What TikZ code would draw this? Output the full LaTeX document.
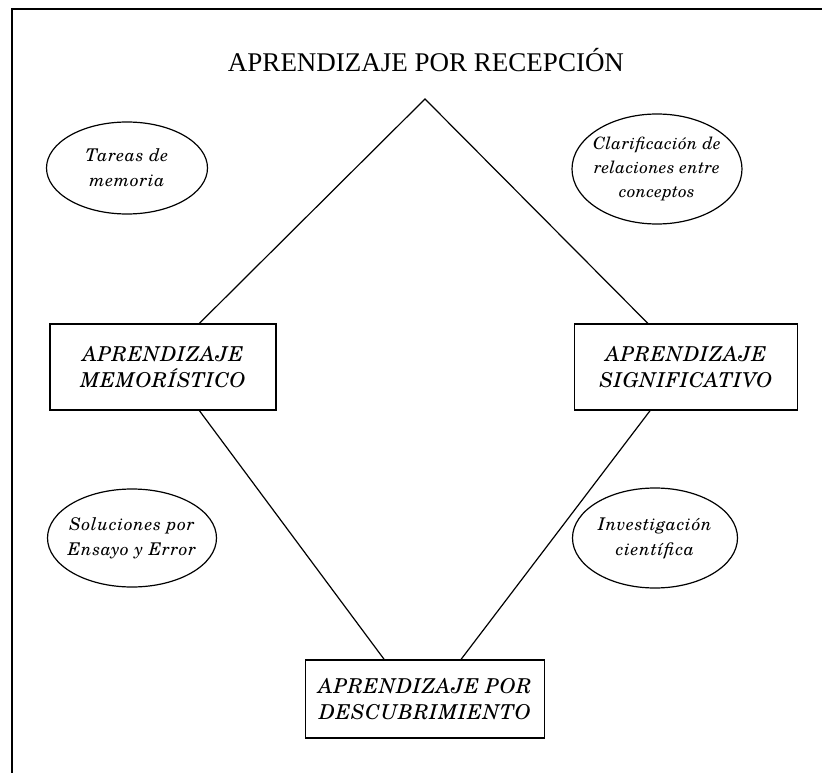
\documentclass[tikz,border=0pt]{standalone}
\usepackage{fontspec}
\setmainfont{Liberation Serif}
\newfontfamily\scholaI{texgyreschola-italic.otf}[LetterSpace=4]
\newfontfamily\scholaC{texgyreschola-italic.otf}[LetterSpace=2]
\newfontfamily\scholaB{texgyreschola-italic.otf}[LetterSpace=3]
\usetikzlibrary{shapes.geometric,calc}
\begin{document}
\begin{tikzpicture}[x=1pt,y=-1pt,
  every path/.style={line width=1.2pt},
  ovaltext/.style={inner sep=0pt, align=center, font=\scholaI\fontsize{17.5}{25}\selectfont},
  lbox/.style={draw, rectangle, inner sep=0pt, align=center, font=\scholaB\fontsize{20.5}{26}\selectfont},
  ttl/.style={font=\fontsize{27}{32}\selectfont}]
\useasboundingbox (0,0) rectangle (822,773);
\fill[white] (0,0) rectangle (822,773);
% frame
\draw[line width=1.4pt] (12,773) -- (12,9) -- (822,9);
% title
\node[ttl] (title) at (426,60) {APRENDIZAJE POR RECEPCIÓN};
\coordinate (apex) at (425,99);
% ellipses
\node[ovaltext] (e1) at (127,168) {Tareas de\\memoria};
\draw (e1.center) ellipse [x radius=80.5, y radius=46];
\node[ovaltext, font=\scholaC\fontsize{17}{24}\selectfont] (e2) at (657,169) {Clarificación de\\relaciones entre\\conceptos};
\draw (e2.center) ellipse [x radius=85, y radius=55];
\node[ovaltext] (e3) at (132,538) {Soluciones por\\Ensayo y Error};
\draw (e3.center) ellipse [x radius=84.5, y radius=49];
\node[ovaltext] (e4) at (655,538) {Investigación\\científica};
\draw (e4.center) ellipse [x radius=82.5, y radius=50];
% boxes
\node[lbox, minimum width=226pt, minimum height=86pt] (bl) at (163,367) {APRENDIZAJE\\MEMORÍSTICO};
\node[lbox, minimum width=223pt, minimum height=86pt] (br) at (686,367) {APRENDIZAJE\\SIGNIFICATIVO};
\node[lbox, minimum width=239pt, minimum height=78pt] (bb) at (425,699) {APRENDIZAJE POR\\DESCUBRIMIENTO};
% connector points
\coordinate (blt) at ($(bl.north west)!0.66!(bl.north east)$);
\coordinate (blb) at ($(bl.south west)!0.66!(bl.south east)$);
\coordinate (brt) at ($(br.north west)!0.33!(br.north east)$);
\coordinate (brb) at ($(br.south west)!0.34!(br.south east)$);
\coordinate (bbl) at ($(bb.north west)!0.33!(bb.north east)$);
\coordinate (bbr) at ($(bb.north west)!0.65!(bb.north east)$);
\draw (blt) -- (apex) -- (brt);
\draw (blb) -- (bbl);
\draw (brb) -- (bbr);
\end{tikzpicture}
\end{document}
